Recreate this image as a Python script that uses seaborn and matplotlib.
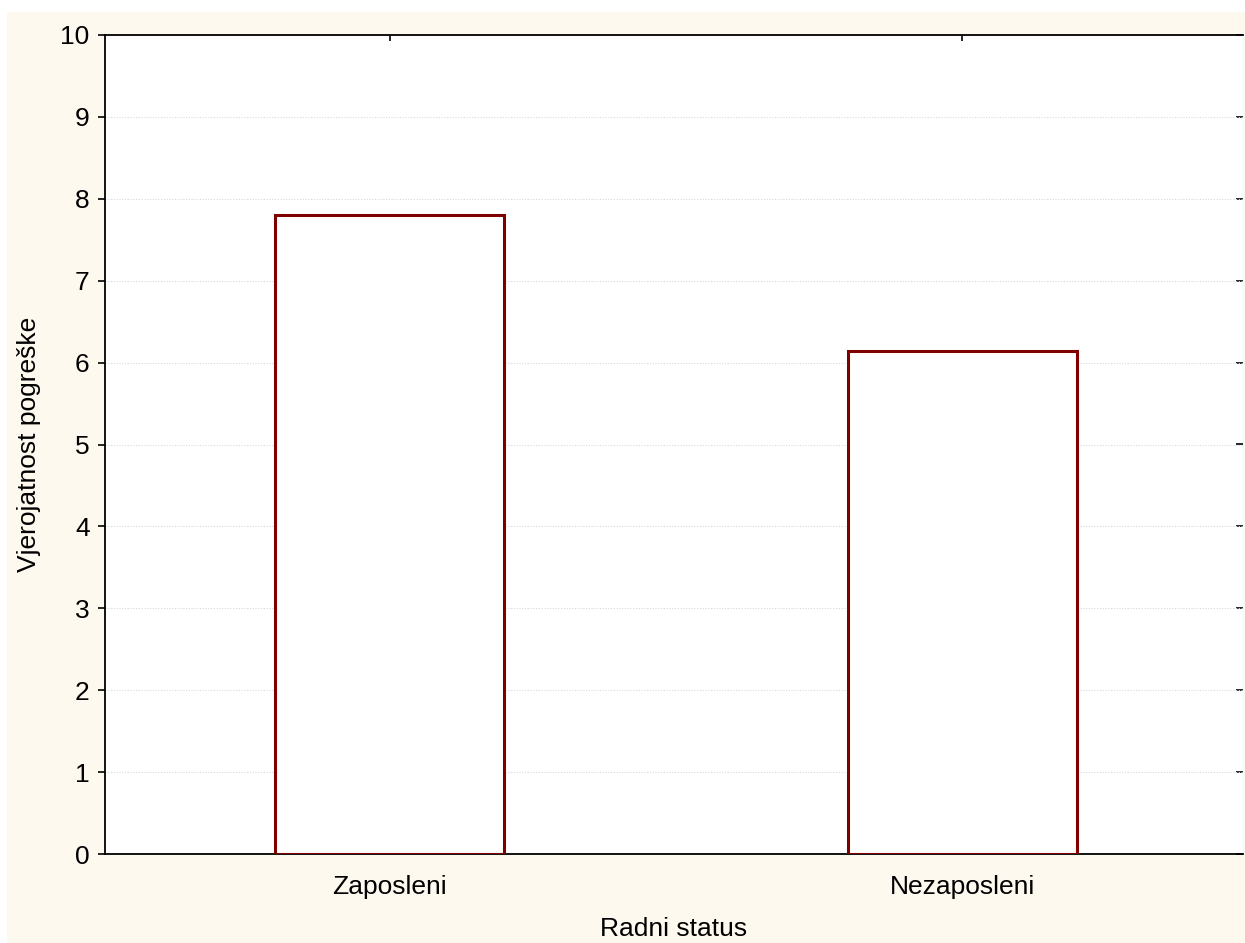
import matplotlib
matplotlib.use("Agg")
import matplotlib.pyplot as plt
import seaborn as sns
import pandas as pd
from matplotlib.patches import Rectangle

categories = ["Zaposleni", "Nezaposleni"]
values = [7.80, 6.14]
y_ticks = [0, 1, 2, 3, 4, 5, 6, 7, 8, 9, 10]
x_label = "Radni status"
y_label = "Vjerojatnost pogreške"

sns.set_theme(style="white")
plt.rcParams['font.family'] = ['Liberation Sans', 'DejaVu Sans']

W, H = 1245, 943
FS = 19
fig = plt.figure(figsize=(W / 100, H / 100), dpi=100, facecolor="white")
bg = Rectangle((7 / W, 0), (W - 7) / W, (H - 12) / H,
               transform=fig.transFigure, facecolor="#FEF9EF",
               edgecolor="none", zorder=-10)
fig.add_artist(bg)
ax = fig.add_axes([105 / W, 1 - 854 / H, (1243 - 105) / W, (854 - 35) / H])
ax.set_zorder(1)
ax.set_facecolor("white")

df = pd.DataFrame({"cat": categories, "val": values})
sns.barplot(data=df, x="cat", y="val", ax=ax, width=0.4, color="white",
            edgecolor="#800000", linewidth=2.2, zorder=3)
for p in ax.patches:
    p.set_facecolor("white")

ax.set_xlim(-0.498, 1.491)
ax.set_ylim(0, 10)
ax.set_yticks(y_ticks)
ax.set_yticklabels([str(t) for t in y_ticks])
ax.grid(axis="y", linestyle=(0, (1, 1.5)), color="#D8D8D8", linewidth=0.8, zorder=0)
ax.set_axisbelow(True)

for s in ["left", "bottom", "top"]:
    ax.spines[s].set_visible(True)
    ax.spines[s].set_color("black")
    ax.spines[s].set_linewidth(1.3)
ax.spines["right"].set_visible(False)

ax.tick_params(axis="y", which="both", left=True, right=False, direction="out",
               length=5, width=1.2, colors="black", labelsize=FS, pad=6)
ax.tick_params(axis="x", which="both", bottom=True, top=True, direction="in",
               length=4, width=1.2, colors="black", labelsize=FS, pad=15)
# right-side inward ticks (no labels)
ax2 = ax.secondary_yaxis("right")
ax2.set_yticks(y_ticks)
ax2.tick_params(direction="in", length=5, width=1.2, labelright=False, colors="black")
ax2.spines["right"].set_visible(False)

ax.set_xlabel(x_label, fontsize=FS, color="black", labelpad=13)
ax.set_ylabel(y_label, fontsize=FS, color="black", labelpad=14)

fig.savefig("out.png", dpi=100, facecolor=fig.get_facecolor())
